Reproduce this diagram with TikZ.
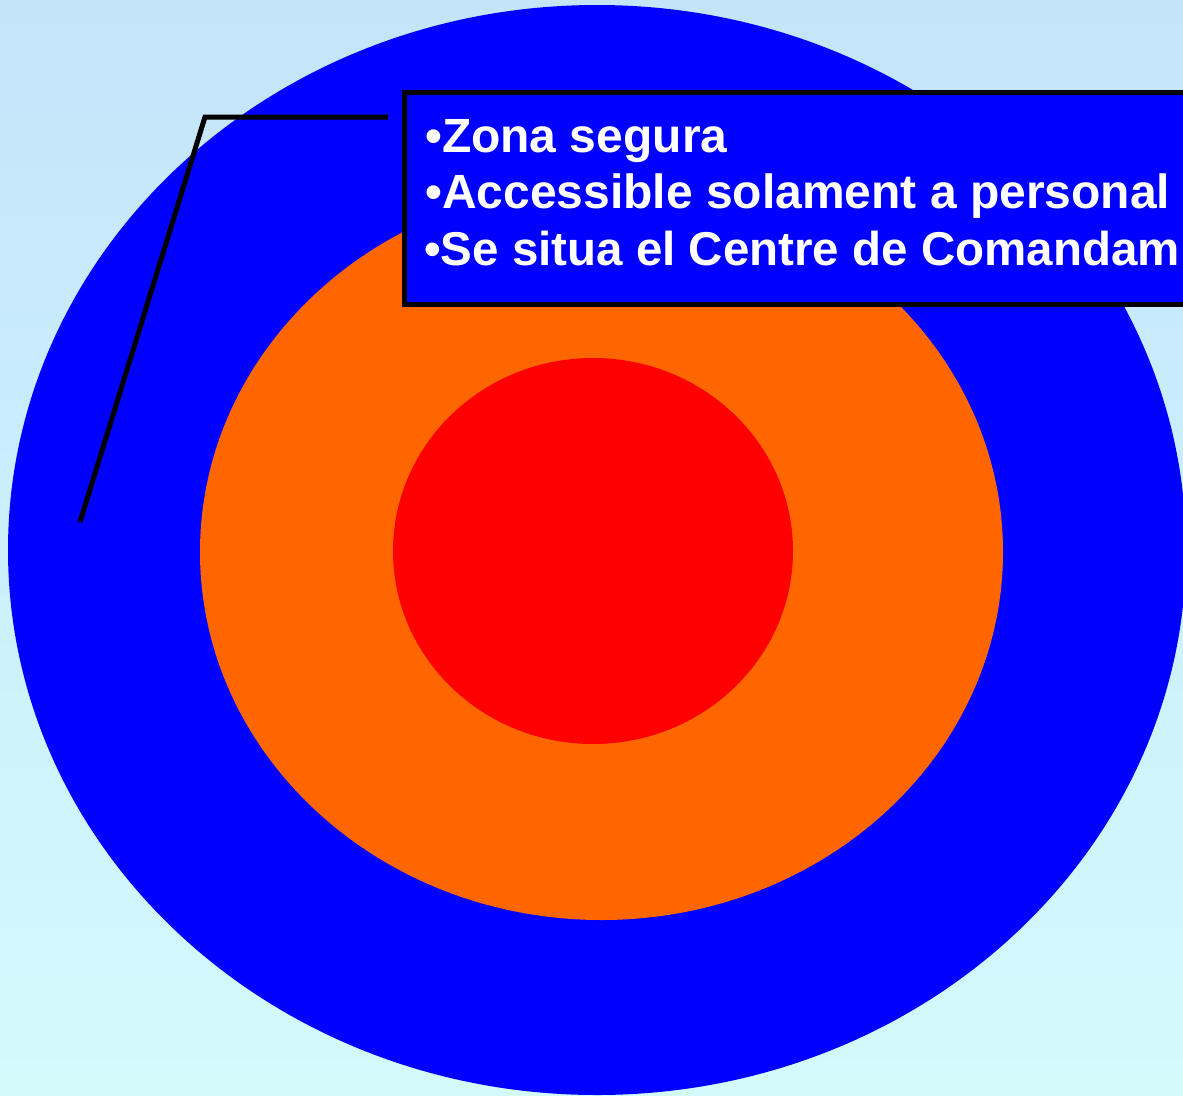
\documentclass[tikz,border=0pt]{standalone}
\usepackage{fontspec}
\setmainfont{Liberation Sans}
\definecolor{bgtop}{HTML}{C4E4FA}
\definecolor{bgbot}{HTML}{D3FBFC}
\definecolor{zblue}{HTML}{0000FF}
\definecolor{zorange}{HTML}{FF6600}
\definecolor{zred}{HTML}{FF0000}
\tikzset{
  zone/.style={draw=none},
  calloutbox/.style={draw=black, line width=5.5pt, fill=zblue, rectangle, inner sep=0pt, outer sep=0pt},
  bullettext/.style={anchor=base west, inner sep=0pt, text=white, font=\fontsize{48}{57}\selectfont\bfseries},
  leader/.style={draw=black, line width=5pt, line join=miter}
}
\begin{document}
\begin{tikzpicture}[x=1pt,y=-1pt]
\useasboundingbox (0,0) rectangle (1183,1095);
\clip (0,0) rectangle (1183,1095);
\shade[top color=bgtop, bottom color=bgbot] (0,0) rectangle (1183,1095);
\fill[zone, zblue] (597,550) ellipse [x radius=589, y radius=545];
\fill[zone, zorange] (601.5,552) ellipse [x radius=401.5, y radius=368];
\fill[zone, zred] (593,551) ellipse [x radius=200, y radius=193];
\node[calloutbox, minimum width=820pt, minimum height=212pt, anchor=north west] (box) at (404.5,92.5) {};
\node[bullettext] (l1) at (425,152) {•Zona segura};
\node[bullettext] (l2) at (425,208.5) {•Accessible solament a personal};
\node[bullettext, font=\fontsize{47.5}{57}\selectfont\bfseries] (l3) at (424,265) {•Se situa el Centre de Comandam};
\coordinate (c1) at (388,117);
\coordinate (c2) at (205,117);
\coordinate (c3) at (80,522);
\draw[leader] (c1) -- (c2) -- (c3);
\end{tikzpicture}
\end{document}
